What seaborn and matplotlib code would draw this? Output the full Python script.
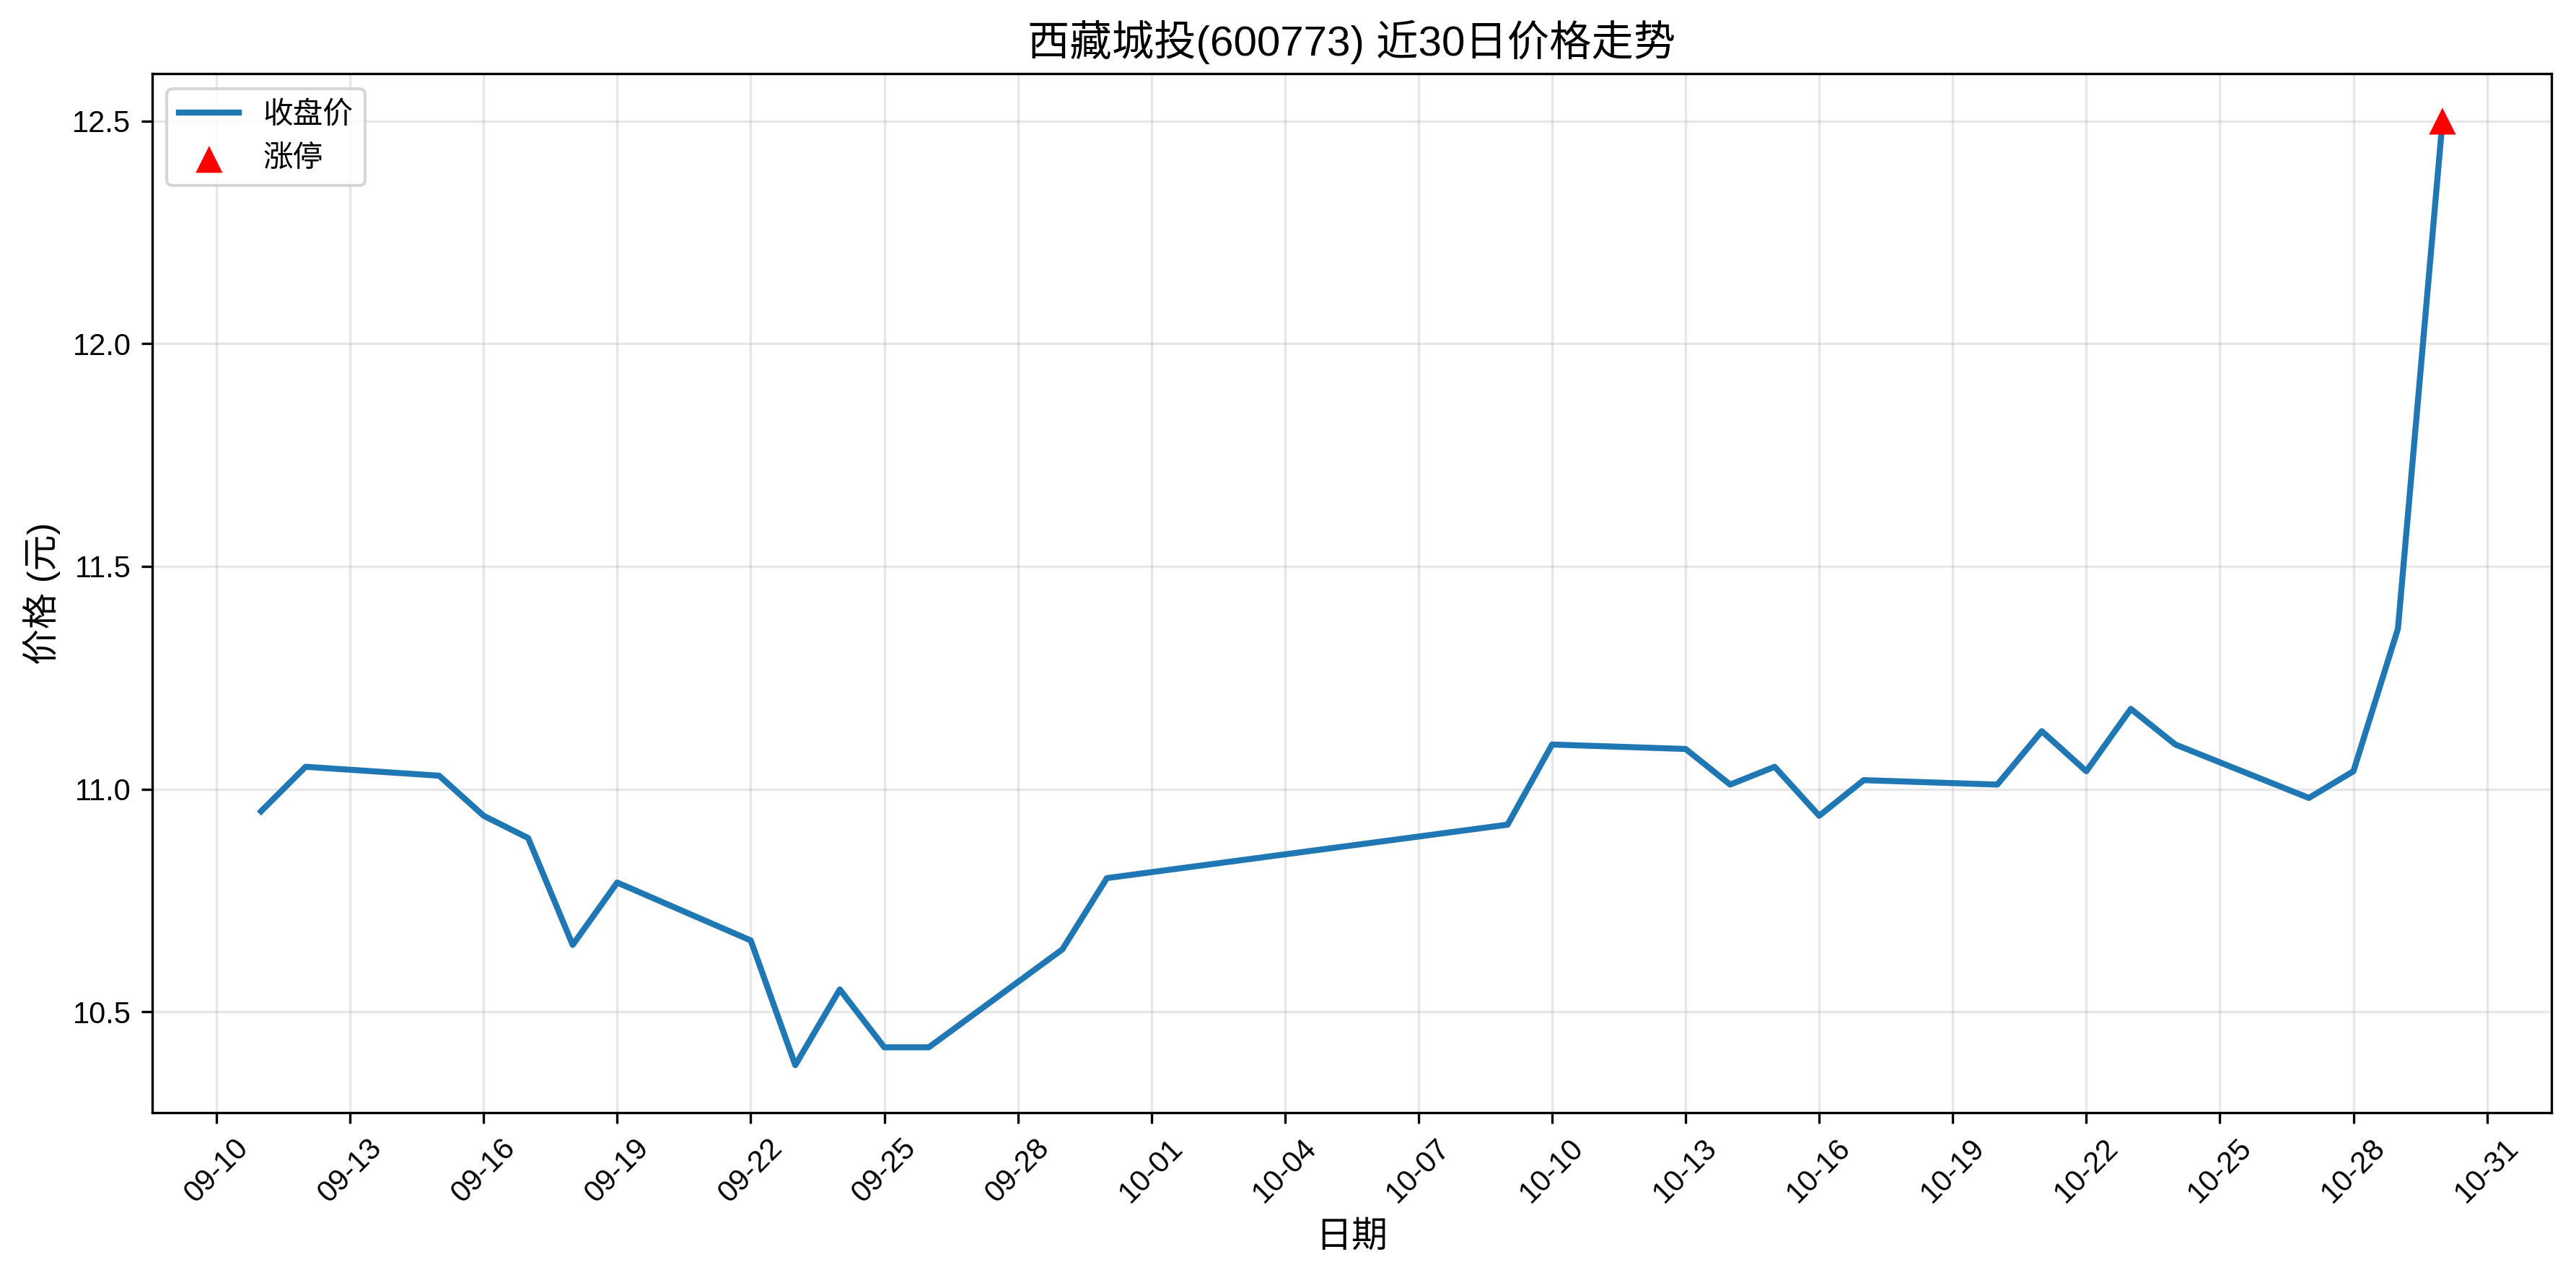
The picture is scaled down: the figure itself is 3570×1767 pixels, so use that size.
import pandas as pd
import matplotlib
matplotlib.use("Agg")
import matplotlib.pyplot as plt
import matplotlib.dates as mdates
import seaborn as sns

# 近30个交易日 (2025)
dates = ["2025-09-11", "2025-09-12", "2025-09-15", "2025-09-16", "2025-09-17",
         "2025-09-18", "2025-09-19", "2025-09-22", "2025-09-23", "2025-09-24",
         "2025-09-25", "2025-09-26", "2025-09-29", "2025-09-30", "2025-10-09",
         "2025-10-10", "2025-10-13", "2025-10-14", "2025-10-15", "2025-10-16",
         "2025-10-17", "2025-10-20", "2025-10-21", "2025-10-22", "2025-10-23",
         "2025-10-24", "2025-10-27", "2025-10-28", "2025-10-29", "2025-10-30"]
close = [10.95, 11.05, 11.03, 10.94, 10.89, 10.65, 10.79, 10.66, 10.38, 10.55,
         10.42, 10.42, 10.64, 10.80, 10.92, 11.10, 11.09, 11.01, 11.05, 10.94,
         11.02, 11.01, 11.13, 11.04, 11.18, 11.10, 10.98, 11.04, 11.36, 12.50]
limit_up_dates = ["2025-10-30"]

df = pd.DataFrame({"date": pd.to_datetime(dates), "close": close})
lu = df[df["date"].isin(pd.to_datetime(limit_up_dates))]

plt.rcParams['font.family'] = ['Liberation Sans', 'Noto Sans CJK SC', 'DejaVu Sans']
plt.rcParams['axes.unicode_minus'] = False

fig, ax = plt.subplots(figsize=(11.9, 5.89), dpi=300)
sns.lineplot(x="date", y="close", data=df, ax=ax, color="#1f77b4", linewidth=2, label="收盘价")
sns.scatterplot(x="date", y="close", data=lu, ax=ax, color="red", marker="^", s=80,
                edgecolor="none", label="涨停", zorder=5)

ax.set_title("西藏城投(600773) 近30日价格走势", fontsize=14)
ax.set_xlabel("日期", fontsize=12)
ax.set_ylabel("价格 (元)", fontsize=12)
ax.xaxis.set_major_locator(mdates.DayLocator(interval=3))
ax.xaxis.set_major_formatter(mdates.DateFormatter("%m-%d"))
plt.setp(ax.get_xticklabels(), rotation=45)
ax.grid(True, alpha=0.3)
ax.legend(loc="upper left")

fig.subplots_adjust(left=0.059, right=0.9905, top=0.942, bottom=0.1276)
plt.savefig("out.png", dpi=300)
